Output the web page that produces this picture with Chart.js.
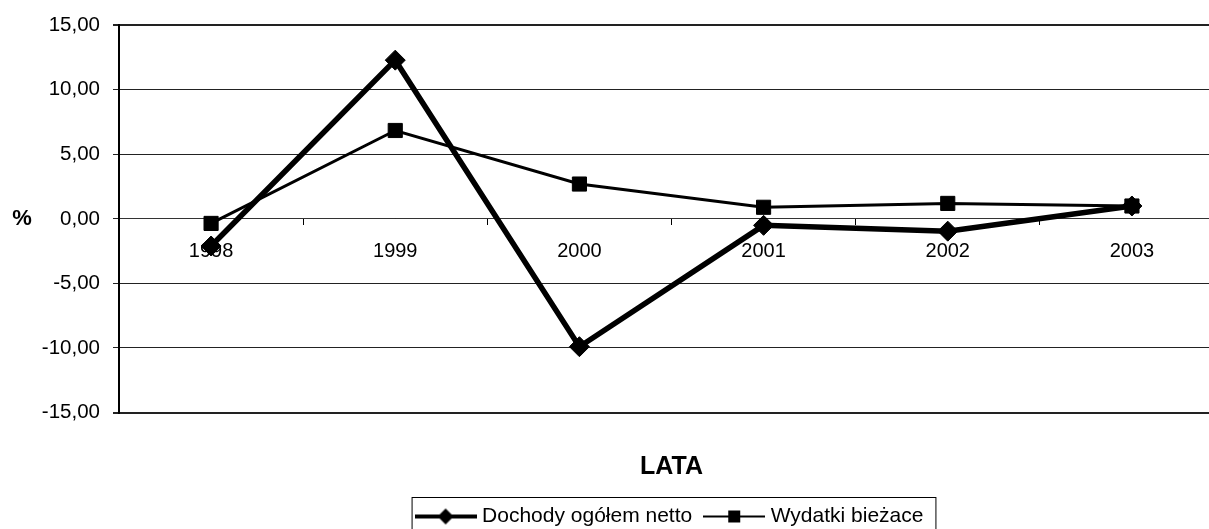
<!DOCTYPE html>
<html>
<head>
<meta charset="utf-8">
<script src="https://cdn.jsdelivr.net/npm/chart.js@4/dist/chart.umd.min.js"></script>
<style>
  html, body { margin: 0; padding: 0; background: #fff; overflow: hidden; width: 1209px; height: 529px; }
  #wrap { position: absolute; left: 0; top: 0; width: 1235px; height: 529px; }
</style>
</head>
<body>
<div id="wrap"><canvas id="c"></canvas></div>
<script>
const categories = ['1998', '1999', '2000', '2001', '2002', '2003'];
const dochody = [-2.1, 12.3, -9.9, -0.5, -0.95, 1.0];
const wydatki = [-0.35, 6.85, 2.7, 0.9, 1.2, 1.0];
const seriesNames = ['Dochody ogółem netto', 'Wydatki bieżace'];
const yMin = -15, yMax = 15, yStep = 5;
const xTitle = 'LATA';
const yTitle = '%';

const FONT = "'Liberation Sans', Arial, sans-serif";

function makeIcon(kind) {
  const cv = document.createElement('canvas');
  cv.width = 62; cv.height = 22;
  const g = cv.getContext('2d');
  g.fillStyle = '#000'; g.strokeStyle = '#000';
  g.lineWidth = kind === 'diamond' ? 4 : 2;
  g.beginPath(); g.moveTo(0, 11); g.lineTo(62, 11); g.stroke();
  g.beginPath();
  if (kind === 'diamond') {
    g.moveTo(31, 3); g.lineTo(39, 11); g.lineTo(31, 19); g.lineTo(23, 11); g.closePath();
  } else {
    g.rect(25, 5, 12, 12);
  }
  g.fill();
  return cv;
}
const icons = [makeIcon('diamond'), makeIcon('square')];

const extras = {
  id: 'extras',
  afterDraw(chart) {
    const ctx = chart.ctx;
    const y0 = chart.scales.y.getPixelForValue(0);
    ctx.save();
    ctx.fillStyle = '#000';
    ctx.font = 'bold 22px ' + FONT;
    ctx.textAlign = 'center';
    ctx.textBaseline = 'middle';
    ctx.fillText(yTitle, 22, y0);
    const hb = chart.legend.legendHitBoxes;
    if (hb && hb.length) {
      const l = Math.min(...hb.map(b => b.left)) - 8;
      const r = Math.max(...hb.map(b => b.left + b.width)) + 12;
      const t = Math.min(...hb.map(b => b.top)) - 9;
      ctx.strokeStyle = '#000';
      ctx.lineWidth = 1;
      ctx.strokeRect(l + 0.5, t + 0.5, r - l, 60);
    }
    ctx.restore();
  }
};

new Chart(document.getElementById('c'), {
  type: 'line',
  data: {
    labels: categories,
    datasets: [
      {
        label: seriesNames[0],
        data: dochody,
        borderColor: '#000',
        backgroundColor: '#000',
        borderWidth: 5.5,
        tension: 0,
        pointStyle: 'rectRot',
        pointRadius: 10,
        pointBorderWidth: 1,
        pointBackgroundColor: '#000',
        pointBorderColor: '#000'
      },
      {
        label: seriesNames[1],
        data: wydatki,
        borderColor: '#000',
        backgroundColor: '#000',
        borderWidth: 3,
        tension: 0,
        pointStyle: 'rect',
        pointRadius: 10,
        pointBorderWidth: 1,
        pointBackgroundColor: '#000',
        pointBorderColor: '#000'
      }
    ]
  },
  options: {
    responsive: true,
    maintainAspectRatio: false,
    animation: false,
    devicePixelRatio: 1,
    layout: { padding: { top: 22, left: 0, right: 0, bottom: -8 } },
    scales: {
      x: {
        type: 'category',
        offset: true,
        position: { y: 0 },
        grid: { drawOnChartArea: false, drawTicks: true, tickLength: 6, offset: true, color: '#000', lineWidth: 1 },
        border: { display: true, color: '#333', width: 1 },
        ticks: { color: '#000', font: { family: FONT, size: 20 }, padding: 15, maxRotation: 0, autoSkip: false }
      },
      y: {
        min: yMin,
        max: yMax,
        afterFit(scale) { scale.width = 119; },
        grid: {
          drawTicks: true,
          tickLength: 6,
          color: '#222',
          lineWidth: (c) => (c.tick && (c.tick.value === yMax || c.tick.value === yMin)) ? 2 : 1
        },
        border: { display: true, color: '#000', width: 2 },
        ticks: {
          stepSize: yStep,
          color: '#000',
          font: { family: FONT, size: 20.5 },
          padding: 13,
          callback: (v) => v.toFixed(2).replace('.', ',')
        }
      }
    },
    plugins: {
      tooltip: { enabled: false },
      title: {
        display: true,
        text: xTitle,
        position: 'bottom',
        weight: 500,
        fullSize: false,
        color: '#000',
        font: { family: FONT, size: 25, weight: 'bold' },
        padding: { top: 40, bottom: 7.5 }
      },
      legend: {
        position: 'bottom',
        fullSize: false,
        labels: {
          color: '#000',
          font: { family: FONT, size: 21 },
          usePointStyle: true,
          pointStyleWidth: 52,
          padding: 16,
          generateLabels: (chart) => chart.data.datasets.map((ds, i) => ({
            text: ds.label,
            pointStyle: icons[i],
            fillStyle: '#000',
            strokeStyle: '#000',
            lineWidth: 0,
            hidden: false,
            datasetIndex: i,
            fontColor: '#000'
          }))
        }
      }
    }
  },
  plugins: [extras]
});
</script>
</body>
</html>
